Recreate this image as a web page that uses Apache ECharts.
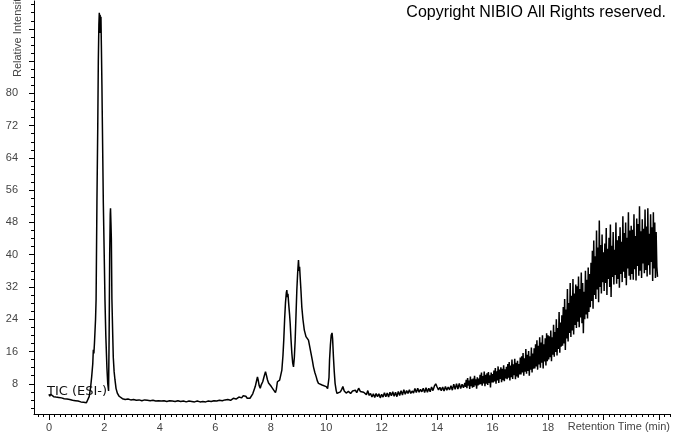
<!DOCTYPE html>
<html>
<head>
<meta charset="utf-8">
<script src="https://cdn.jsdelivr.net/npm/echarts@6/dist/echarts.min.js"></script>
<style>
html,body{margin:0;padding:0;background:#fff;}
#chart{width:673px;height:433px;}
</style>
</head>
<body>
<div id="chart"></div>
<script>
// ---- Data (retention time in min, relative intensity) ----
const earlyBaseline = [[0.0,5.4],[0.03,4.9],[0.06,5.4],[0.1,5.0],[0.13,5.3],[0.17,4.8],[0.2,5.2],[0.25,4.7],[0.3,5.1],[0.35,4.6],[0.4,4.9],[0.45,4.5],[0.5,4.8],[0.55,4.3],[0.6,4.6],[0.65,4.2],[0.7,4.5],[0.75,4.1],[0.8,4.4],[0.85,3.9],[0.9,4.2],[0.95,3.8],[1.0,4.1],[1.05,3.7],[1.1,3.9],[1.15,3.5],[1.2,3.8],[1.25,3.4],[1.3,3.6],[1.35,3.3],[1.4,3.5]];
const solventPeaks = [[1.45,4.8],[1.5,7.0],[1.54,9.7],[1.58,13.0],[1.60,16.4],[1.62,15.5],[1.64,18.0],[1.68,24.0],[1.70,29.0],[1.73,53.0],[1.76,72.0],[1.78,88.0],[1.80,97.0],[1.815,100.0],[1.83,95.0],[1.845,99.5],[1.86,96.0],[1.875,99.0],[1.89,92.0],[1.91,82.0],[1.92,76.0],[1.96,53.0],[2.0,37.0],[2.02,28.7],[2.05,20.0],[2.09,12.0],[2.12,8.0],[2.15,6.2],[2.17,20.0],[2.19,40.0],[2.21,50.0],[2.22,51.5],[2.235,48.0],[2.25,44.0],[2.27,29.0],[2.30,20.0],[2.32,14.5],[2.35,11.0],[2.38,9.0],[2.42,6.8],[2.47,5.6],[2.53,4.9],[2.60,4.5]];
const midBaseline = [[2.65,4.3],[2.75,4.1],[2.85,4.2],[2.95,4.0],[3.05,4.1],[3.15,3.9],[3.25,4.0],[3.35,3.8],[3.45,4.0],[3.55,3.9],[3.65,3.8],[3.75,3.9],[3.85,3.7],[3.95,3.8],[4.05,3.7],[4.15,3.8],[4.25,3.6],[4.35,3.8],[4.45,3.7],[4.55,3.6],[4.65,3.8],[4.75,3.6],[4.85,3.7],[4.95,3.5],[5.05,3.7],[5.15,3.6],[5.25,3.5],[5.35,3.7],[5.45,3.5],[5.55,3.6],[5.65,3.5],[5.75,3.7],[5.85,3.6],[5.95,3.8],[6.05,3.7],[6.15,3.9],[6.25,3.8],[6.35,4.0],[6.45,4.1],[6.55,3.9],[6.65,4.4],[6.75,4.2],[6.85,4.7],[6.95,4.5],[7.0,5.0],[7.05,4.6],[7.1,4.9],[7.15,4.4],[7.2,4.6],[7.25,4.4],[7.3,4.8]];
const analytePeaks = [[7.35,5.5],[7.4,6.5],[7.44,7.3],[7.48,8.5],[7.52,9.7],[7.55,8.8],[7.58,7.6],[7.62,6.9],[7.66,7.8],[7.71,8.5],[7.76,9.8],[7.81,11.0],[7.84,10.2],[7.88,9.0],[7.92,8.2],[7.97,7.8],[8.02,7.3],[8.06,7.0],[8.10,6.5],[8.14,6.1],[8.17,5.8],[8.20,6.6],[8.24,8.5],[8.28,8.2],[8.32,8.9],[8.36,8.6],[8.40,11.4],[8.44,15.0],[8.47,19.0],[8.50,24.0],[8.53,28.0],[8.56,30.5],[8.58,31.2],[8.60,29.5],[8.62,30.3],[8.65,27.5],[8.68,25.0],[8.70,23.0],[8.73,19.0],[8.76,15.6],[8.79,13.2],[8.82,12.2],[8.85,14.5],[8.88,18.8],[8.91,25.0],[8.94,31.2],[8.97,35.5],[9.0,38.7],[9.02,36.0],[9.04,37.0],[9.06,34.5],[9.09,31.0],[9.12,27.0],[9.16,24.0],[9.21,21.3],[9.24,20.5],[9.27,19.7],[9.31,19.9],[9.36,18.8],[9.40,17.4],[9.45,15.6],[9.50,13.8],[9.54,12.2],[9.59,10.8],[9.64,9.7],[9.68,8.7],[9.72,8.1],[9.78,8.0],[9.85,7.7],[9.92,7.6],[10.0,7.3],[10.05,6.8],[10.08,6.4],[10.10,9.5],[10.12,13.9],[10.15,17.5],[10.18,20.0],[10.21,20.6],[10.23,19.2],[10.26,14.7],[10.29,11.0],[10.32,8.1],[10.36,6.3],[10.39,5.6],[10.45,5.9],[10.51,6.0],[10.56,6.6],[10.60,7.3],[10.65,6.2],[10.72,5.7],[10.8,6.1],[10.88,5.6],[10.95,6.2],[10.99,6.0],[11.05,6.4],[11.10,5.8],[11.17,6.9],[11.23,6.1],[11.30,5.7],[11.35,5.9]];

// regularly sampled scans (start time, scan interval, intensities)
const driftStart = 11.40, driftStep = 0.05;
const driftIntensity = [6.2,5.3,6.3,5.1,5.6,4.7,5.5,4.6,5.6,4.8,
  5.5,4.5,5.4,4.7,5.8,4.8,5.7,4.7,5.9,5.0,
  6.0,4.9,5.9,4.8,6.1,5.1,6.3,5.2,6.5,5.4,
  6.3,5.6,6.5,5.6,6.2,5.7,6.8,5.8,6.9,5.9,
  6.6,6.0,6.9,5.8,7.0,5.9,6.9,6.0,7.2,6.3,
  7.4,8.0,7.2,6.5,7.1,6.3,7.2,6.2,7.3,6.4,
  7.2,6.5,7.5,6.4,7.9,6.6,8.0,6.7,8.1,6.8,
  7.9,7.0,8.2];
const gradientStart = 15.025, gradientStep = 0.025;
const gradientIntensity = [
  7.2,9.0,6.9,9.4,7.5,8.8,6.7,9.8,7.4,9.1,7.0,9.3,7.2,10.0,7.6,9.1,6.8,9.6,7.6,9.3,
  7.8,10.2,7.9,10.8,7.5,9.9,8.1,11.0,7.4,10.2,8.0,10.6,7.7,10.9,8.2,10.1,7.1,10.8,8.3,10.4,
  8.3,11.3,8.6,11.9,8.0,11.1,8.8,12.3,8.2,11.5,9.2,12.1,8.4,11.7,8.9,12.6,8.6,11.6,9.3,12.2,
  9.1,12.9,9.5,13.4,8.8,12.5,9.6,14.0,9.2,12.8,10.1,14.2,9.1,13.2,9.8,13.7,9.5,12.9,10.3,14.5,
  10.3,14.8,10.8,15.6,10.0,14.3,11.0,16.6,10.5,15.2,11.2,16.1,10.0,14.8,11.5,17.0,10.8,15.5,11.7,16.8,
  11.8,17.8,12.3,18.8,11.5,17.4,12.8,19.5,12.0,18.2,13.2,20.0,11.8,17.8,13.5,19.3,12.5,20.5,13.6,20.0,
  14.0,19.8,14.6,21.2,13.6,19.5,15.2,22.6,14.7,20.8,15.9,24.0,15.0,21.8,16.6,25.8,15.7,23.2,17.2,25.0,
  17.4,27.0,18.0,29.0,16.4,26.4,19.2,31.5,18.5,28.0,20.6,33.0,19.6,29.8,21.2,34.0,20.2,30.4,22.6,32.6,
  21.8,32.2,23.4,34.6,22.0,31.5,24.4,35.6,23.0,33.0,20.5,30.8,24.0,36.0,25.2,33.8,24.2,36.8,25.8,35.2,
  27.0,38.0,28.5,41.0,26.6,43.5,30.0,39.6,29.0,46.0,31.4,41.8,28.2,48.5,32.0,42.4,30.4,45.0,33.2,40.6,
  31.0,42.8,33.0,46.6,30.0,41.5,34.0,44.2,32.0,47.5,29.5,42.2,34.5,45.6,32.6,41.2,35.0,48.0,32.8,43.6,
  34.0,44.6,31.8,46.8,35.2,43.2,33.2,49.5,35.8,45.4,34.2,48.0,32.4,44.2,36.6,50.5,34.8,46.0,33.8,47.2,
  35.2,46.2,33.8,50.0,36.4,44.6,33.6,49.0,37.2,47.6,34.8,52.0,36.0,45.8,34.2,48.8,37.8,46.4,35.4,51.2,
  36.2,47.0,34.6,51.5,37.4,45.2,35.0,50.0,38.2,46.8,33.5,50.5,36.6,48.0,34.2,45.6,37.0,34.5];

// ticks / labels
const xLabelValues = [0,2,4,6,8,10,12,14,16,18];
const xMajorTicks = [0,2,4,6,8,10,12,14,16,18,20,22];
const yLabelValues = [8,16,24,32,40,48,56,64,72,80];
const yMajorTicks = [8,16,24,32,40,48,56,64,72,80,88,96];

// ---- build ----
function scans(start, step, vals){
  const out = [];
  for (let i = 0; i < vals.length; i++) out.push([+(start + i*step).toFixed(3), vals[i]]);
  return out;
}
const trace = [].concat(earlyBaseline, solventPeaks, midBaseline, analytePeaks,
  scans(driftStart, driftStep, driftIntensity), scans(gradientStart, gradientStep, gradientIntensity));

const xMinorTicks = [];
for (let k = -2; k <= 112; k++) xMinorTicks.push(+(k*0.2).toFixed(1));
const yMinorTicks = [];
for (let k = 1; k <= 51; k++) yMinorTicks.push(k*2);

const labelFont = {fontFamily:'Liberation Sans, Arial, sans-serif', fontSize:11, color:'#444'};
const chart = echarts.init(document.getElementById('chart'), null, {renderer:'canvas'});
chart.setOption({
  animation:false,
  backgroundColor:'#fff',
  grid:{left:34, right:3, top:1, bottom:19, containLabel:false},
  xAxis:[{
    type:'value', min:-0.54, max:22.4, position:'bottom',
    axisLine:{show:true, onZero:false, lineStyle:{color:'#000', width:1}},
    axisTick:{show:true, customValues:xMajorTicks, length:6, inside:false, lineStyle:{color:'#000'}},
    axisLabel:Object.assign({customValues:xLabelValues, margin:8}, labelFont),
    splitLine:{show:false}
  },{
    type:'value', min:-0.54, max:22.4, position:'bottom',
    axisLine:{show:false, onZero:false},
    axisTick:{show:true, customValues:xMinorTicks, length:3, lineStyle:{color:'#000'}},
    axisLabel:{show:false},
    splitLine:{show:false}
  }],
  yAxis:[{
    type:'value', min:0.5, max:102.9, position:'left',
    axisLine:{show:true, onZero:false, lineStyle:{color:'#000', width:1}},
    axisTick:{show:true, customValues:yMajorTicks, length:5, lineStyle:{color:'#000'}},
    axisLabel:Object.assign({customValues:yLabelValues, margin:16}, labelFont),
    splitLine:{show:false}
  },{
    type:'value', min:0.5, max:102.9, position:'left',
    axisLine:{show:false, onZero:false},
    axisTick:{show:true, customValues:yMinorTicks, length:3, lineStyle:{color:'#000'}},
    axisLabel:{show:false},
    splitLine:{show:false}
  }],
  series:[{
    type:'line', xAxisIndex:0, yAxisIndex:0,
    data:trace, showSymbol:false, symbol:'none', smooth:false, sampling:null,
    lineStyle:{color:'#000', width:1.5}
  }],
  graphic:[
    {type:'text', right:7, top:5, style:{text:'Copyright NIBIO All Rights reserved.', font:'16px "Liberation Sans", Arial, sans-serif', fill:'#000'}},
    {type:'text', x:18, y:77, rotation:Math.PI/2, style:{text:'Relative Intensity', font:'11px "Liberation Sans", Arial, sans-serif', fill:'#444', textAlign:'left', textVerticalAlign:'middle'}},
    {type:'text', x:670, y:427, style:{text:'Retention Time (min)', font:'11px "Liberation Sans", Arial, sans-serif', fill:'#444', textAlign:'right', textVerticalAlign:'middle'}},
    {type:'text', x:47, y:392, style:{text:'TIC (ESI-)', font:'13px "DejaVu Sans", sans-serif', fill:'#111', textAlign:'left', textVerticalAlign:'middle'}}
  ]
});
</script>
</body>
</html>
